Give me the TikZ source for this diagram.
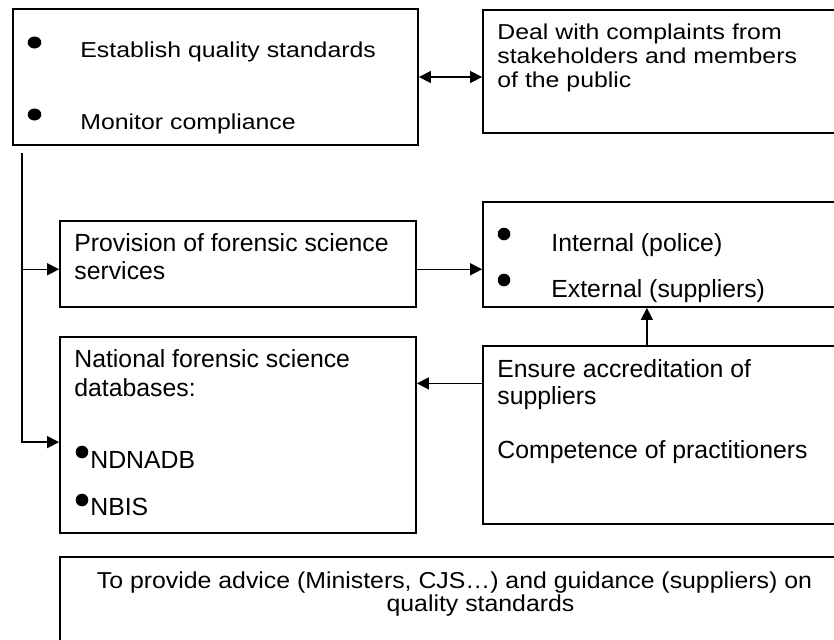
\documentclass[tikz,border=0pt]{standalone}
\usepackage{fontspec}
\setmainfont{Liberation Sans}
\newfontfamily\widefont[FakeStretch=1.15]{Liberation Sans}
\newfontfamily\notefont[FakeStretch=1.08]{Liberation Sans}
\usetikzlibrary{arrows.meta, calc, fit}

\tikzset{
  box/.style={draw, line width=0.9pt, inner sep=0pt},
  txt/.style={inner sep=0pt, anchor=base west, font=\fontsize{12.4}{14}\selectfont},
  wtxt/.style={inner sep=0pt, anchor=base west, font=\widefont\fontsize{10.8}{12}\selectfont},
  ntxt/.style={inner sep=0pt, anchor=base, font=\notefont\fontsize{11.5}{12}\selectfont},
  link/.style={line width=0.7pt, >={Triangle[length=6pt,width=6pt]}},
}

\begin{document}
\begin{tikzpicture}[x=0.5pt, y=-0.5pt]
  \clip (0,0) rectangle (834,639);
  \fill[white] (0,0) rectangle (834,639);

  % boxes
  \node[box, fit={(13,9) (418,145)}] (qs) {};
  \node[box, fit={(483,10) (860,133)}] (compl) {};
  \node[box, fit={(60,221) (416,307)}] (prov) {};
  \node[box, fit={(483,202) (860,307)}] (sup) {};
  \node[box, fit={(60,337) (416,533)}] (db) {};
  \node[box, fit={(483,346) (860,524)}] (accr) {};
  \node[box, fit={(60,557) (860,680)}] (advice) {};

  % quality standards
  \fill (34.5,42.5) ellipse [x radius=6.8, y radius=6];
  \fill (34.5,114.5) ellipse [x radius=6.8, y radius=6];
  \node[wtxt] (qs1) at (80,57) {Establish quality standards};
  \node[wtxt] (qs2) at (80,129) {Monitor compliance};

  % complaints
  \node[wtxt] (c1) at (497,39) {Deal with complaints from};
  \node[wtxt] (c2) at (497,63) {stakeholders and members};
  \node[wtxt] (c3) at (497,87) {of the public};

  % provision
  \node[txt] (p1) at (74,251) {Provision of forensic science};
  \node[txt] (p2) at (74,279) {services};

  % suppliers
  \fill (504,234) circle [radius=6.3];
  \fill (504,280) circle [radius=6.3];
  \node[txt] (s1) at (551,251) {Internal (police)};
  \node[txt] (s2) at (551,297) {External (suppliers)};

  % databases
  \node[txt] (d1) at (74,367) {National forensic science};
  \node[txt] (d2) at (74,396) {databases:};
  \fill (82,452) circle [radius=6.3];
  \fill (82,500) circle [radius=6.3];
  \node[txt] (d3) at (90,468) {NDNADB};
  \node[txt] (d4) at (90,515) {NBIS};

  % accreditation
  \node[txt] (a1) at (497,377) {Ensure accreditation of};
  \node[txt] (a2) at (497,404) {suppliers};
  \node[txt] (a3) at (497,458) {Competence of practitioners};

  % advice
  \node[ntxt] (g1) at (454.5,588) {To provide advice (Ministers, CJS…) and guidance (suppliers) on};
  \node[ntxt] (g2) at (480.5,611) {quality standards};

  % connectors
  \draw[link,<->] (qs.east) -- (qs.east -| compl.west);
  \coordinate (trunk) at (22,153);
  \draw[link,->] (trunk) |- ($(prov.north west)!0.56!(prov.south west)$);
  \draw[link,->] (trunk) |- ($(db.north west)!0.536!(db.south west)$);
  \draw[link,->] ($(prov.north east)!0.56!(prov.south east)$) coordinate (pe) -- (pe -| sup.west);
  \draw[link,->] ($(accr.north west)!0.435!(accr.north east)$) coordinate (an) -- (an |- sup.south);
  \draw[link,->] ($(accr.north west)!0.213!(accr.south west)$) coordinate (aw) -- (aw -| db.east);
\end{tikzpicture}
\end{document}
